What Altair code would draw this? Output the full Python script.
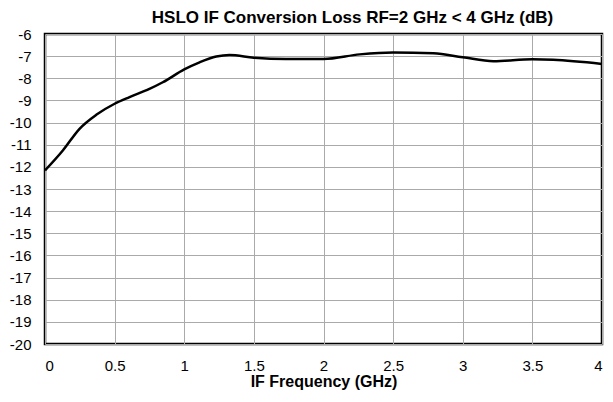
import altair as alt
import pandas as pd

freq_ghz = [0.0, 0.128, 0.248, 0.368, 0.5, 0.607, 0.75, 0.846, 1.0, 1.11, 1.23, 1.325,
            1.5, 1.73, 2.0, 2.26, 2.5, 2.79, 3.0, 3.22, 3.5, 3.65, 4.0]
loss_db = [-12.16, -11.26, -10.28, -9.65, -9.15, -8.85, -8.48, -8.18, -7.6, -7.28, -7.02, -6.95,
           -7.07, -7.13, -7.13, -6.92, -6.83, -6.87, -7.05, -7.23, -7.14, -7.16, -7.35]
x_ticks = [0, 0.5, 1, 1.5, 2, 2.5, 3, 3.5, 4]
y_ticks = list(range(-20, -5))

df = pd.DataFrame({"f": freq_ghz, "loss": loss_db})

FONT = "Liberation Sans"

chart = alt.Chart(df).mark_line(
    color="black", strokeWidth=2.5, interpolate="monotone"
).encode(
    x=alt.X("f:Q", scale=alt.Scale(domain=[0, 4], nice=False, zero=False),
            axis=alt.Axis(values=x_ticks, title="IF Frequency (GHz)",
                          labelExpr="'' + datum.value")),
    y=alt.Y("loss:Q", scale=alt.Scale(domain=[-20, -6], nice=False, zero=False),
            axis=alt.Axis(values=y_ticks, title=None,
                          labelExpr="'' + datum.value")),
).properties(
    width=557, height=310,
    autosize=alt.AutoSizeParams(type="none"),
    padding={"left": 37, "top": 26, "right": 3, "bottom": 46},
    title=alt.TitleParams("HSLO IF Conversion Loss RF=2 GHz < 4 GHz (dB)",
                          font=FONT, fontSize=17, fontWeight="bold", color="black",
                          anchor="middle", frame="group", dx=29, offset=0),
).configure_view(
    stroke="black", strokeWidth=2.5
).configure_axis(
    domain=False, ticks=False, grid=True, gridColor="#aaaaaa", gridWidth=1,
    labelFont=FONT, labelFontSize=15, labelColor="black",
    titleFont=FONT, titleFontSize=16, titleFontWeight="bold", titleColor="black",
).configure_axisY(
    labelPadding=14
).configure_axisX(
    labelPadding=14, titlePadding=0
)

chart.save("out.html", embed_options={"renderer": "svg", "actions": False})
